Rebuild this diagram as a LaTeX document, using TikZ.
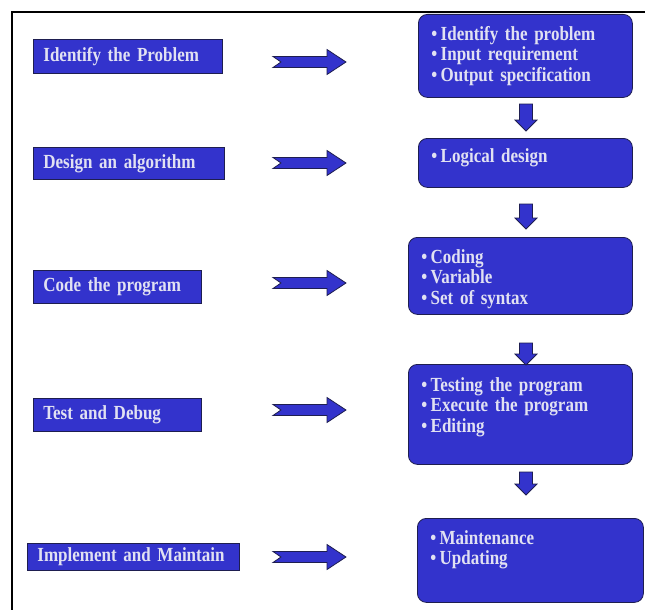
\documentclass[tikz,border=0pt]{standalone}
\usepackage{fontspec}
\setmainfont{Liberation Serif}
\newfontfamily\narrowserif[FakeStretch=0.85, WordSpace=0.75]{Liberation Serif}
\usetikzlibrary{positioning,calc}

\definecolor{boxblue}{RGB}{51,51,204}
\definecolor{boxline}{RGB}{30,30,80}
\definecolor{boxtext}{RGB}{225,225,242}

\tikzset{
    stagebox/.style={draw=boxline, fill=boxblue, text=boxtext, line width=0.8pt,
        font=\narrowserif\fontsize{20}{20.5}\selectfont\bfseries, anchor=north west,
        inner xsep=10pt, inner ysep=0pt, align=left},
    detailbox/.style={stagebox, rounded corners=9pt, inner xsep=13pt},
    blockfill/.style={draw=boxline, fill=boxblue, line width=0.8pt},
    rarrow/.pic={
        \draw[blockfill] (0,-5.5) -- (54,-5.5) -- (54,-12.5) -- (73,0) -- (54,12.5)
            -- (54,5.5) -- (0,5.5) -- (8,0) -- cycle;
    },
    darrow/.pic={
        \draw[blockfill] (-6.5,0) -- (6.5,0) -- (6.5,\dlen-11) -- (11,\dlen-11) -- (0,\dlen)
            -- (-11,\dlen-11) -- (-6.5,\dlen-11) -- cycle;
    }
}

\begin{document}
\begin{tikzpicture}[x=1pt, y=-1pt]

        \path[use as bounding box, fill=white] (0,0) rectangle (645,610);

        % frame
        \draw[line width=2.5pt] (645,12) -| (12,610);

        % stages
        \node[stagebox, text width=169pt, minimum height=34pt] (s1) at (33,39) {Identify the Problem};
        \node[stagebox, text width=171pt, minimum height=32pt] (s2) at (33,147) {Design an algorithm};
        \node[stagebox, text width=148pt, minimum height=33pt] (s3) at (33,270) {Code the program};
        \node[stagebox, text width=148pt, minimum height=33pt] (s4) at (33,398) {Test and Debug};
        \node[stagebox, text width=192pt, minimum height=27pt] (s5) at (27,543) {Implement and Maintain};

        % details
        \node[detailbox, text width=188pt, text height=26pt, text depth=57pt] (r1) at (418,14)
            {\textbullet\,Identify the problem\\ \textbullet\,Input requirement\\ \textbullet\,Output specification};
        \node[detailbox, text width=188pt, text height=24pt, text depth=25pt] (r2) at (418,138)
            {\textbullet\,Logical design};
        \node[detailbox, text width=198pt, text height=26pt, text depth=51pt] (r3) at (408,237)
            {\textbullet\,Coding\\ \textbullet\,Variable\\ \textbullet\,Set of syntax};
        \node[detailbox, text width=198pt, text height=27pt, text depth=73pt] (r4) at (408,364)
            {\textbullet\,Testing the program\\ \textbullet\,Execute the program\\ \textbullet\,Editing};
        \node[detailbox, text width=200pt, text height=26pt, text depth=58pt] (r5) at (417,518)
            {\textbullet\,Maintenance\\ \textbullet\,Updating};

        % block arrows
        \foreach \y in {62,163,283,410,557}
            \pic at (273,\y) {rarrow};

        \foreach \y/\dlen in {104/27,204/25,343/22,472/23}
            \pic at (526,\y) {darrow};

\end{tikzpicture}
\end{document}
